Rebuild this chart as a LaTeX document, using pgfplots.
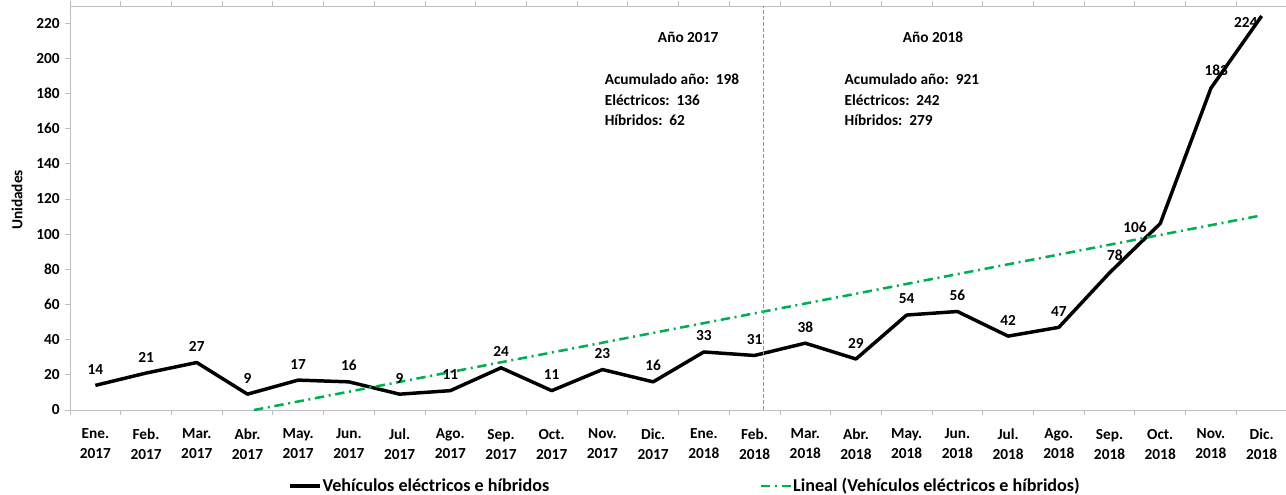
\documentclass[border=0pt]{standalone}
\usepackage{pgfplots}
\pgfplotsset{compat=1.18}
\usepackage{pgfplotstable}
\usepackage{fontspec}
\setmainfont{Carlito}
\definecolor{trendgreen}{RGB}{0,176,80}
\definecolor{axgray}{RGB}{190,190,190}
\definecolor{divgray}{RGB}{150,150,150}

% unidades por mes (0 = Ene. 2017 ... 23 = Dic. 2018)
\pgfplotstableread{
x  y
0  14
1  21
2  27
3  9
4  17
5  16
6  9
7  11
8  24
9  11
10 23
11 16
12 33
13 31
14 38
15 29
16 54
17 56
18 42
19 47
20 78
21 106
22 183
23 224
}\ventas

% tendencia lineal (recortada en y=0)
\pgfplotstableread{
x     y
3.13  0
23    110.67
}\tendencia

\pgfplotsset{etiq/.style={forget plot, draw=none, mark=none, nodes near coords, point meta=y,
    every node near coord/.append style={inner sep=0pt, text=black}}}

\begin{document}
\fontsize{11.5}{13.5}\selectfont\bfseries
\begin{tikzpicture}
\useasboundingbox (-52.5pt,-63pt) rectangle (912pt,307.5pt);
\begin{axis}[
    at={(0pt,0pt)}, anchor=south west,
    scale only axis,
    width=912.75pt, height=303pt,
    xmin=-0.5, xmax=23.5,
    ymin=0, ymax=229.7,
    axis line style={axgray},
    tick align=outside,
    tick style={axgray, line width=0.6pt},
    major tick length=3.75pt,
    minor tick length=3.75pt,
    xtick={0,...,23},
    major x tick style={draw=none},
    minor xtick={-0.5,0.5,...,23.5},
    xticklabels={{Ene.\\2017},{Feb.\\2017},{Mar.\\2017},{Abr.\\2017},{May.\\2017},{Jun.\\2017},
                 {Jul.\\2017},{Ago.\\2017},{Sep.\\2017},{Oct.\\2017},{Nov.\\2017},{Dic.\\2017},
                 {Ene.\\2018},{Feb.\\2018},{Mar.\\2018},{Abr.\\2018},{May.\\2018},{Jun.\\2018},
                 {Jul.\\2018},{Ago.\\2018},{Sep.\\2018},{Oct.\\2018},{Nov.\\2018},{Dic.\\2018}},
    xticklabel style={align=center, font=\fontsize{11.5}{15}\selectfont\bfseries, text=black, yshift=-6.5pt},
    ytick={0,20,...,220},
    yticklabel style={text=black},
    /pgf/number format/assume math mode=true,
    ylabel={Unidades},
    ylabel style={at={(axis description cs:-0.0436,0.52)}, anchor=center, font=\fontsize{11.5}{13}\selectfont\bfseries},
    legend columns=2,
    legend style={at={(axis description cs:0.179,-0.188)}, anchor=west, draw=none, fill=none,
                  inner sep=0pt, nodes={inner sep=0.75pt},
                  font=\fontsize{13.6}{16}\selectfont\bfseries,
                  /tikz/every even column/.append style={column sep=157pt}},
    legend image code/.code={\draw[#1] (0pt,0pt) -- (22.5pt,0pt);},
]
\addplot[black, line width=2.6pt, line join=round] table[x=x, y=y] {\ventas};
\addlegendentry{Vehículos eléctricos e híbridos}
\addplot[trendgreen, line width=1.9pt, dash pattern=on 7pt off 3.5pt on 1.5pt off 3.5pt]
    table[x=x, y=y] {\tendencia};
\addlegendentry{Lineal (Vehículos eléctricos e híbridos)}

% etiquetas de datos
\addplot[etiq, every node near coord/.append style={anchor=south, yshift=8pt}]
    table[x=x, y=y, restrict x to domain=0:19] {\ventas};
\addplot[etiq, every node near coord/.append style={anchor=south, xshift=4pt, yshift=9pt}]
    coordinates {(20,78) (22,183)};
\addplot[etiq, every node near coord/.append style={anchor=east, xshift=-10pt, yshift=-3pt}]
    coordinates {(21,106)};
\addplot[etiq, every node near coord/.append style={anchor=east, xshift=-3pt, yshift=-4.5pt}]
    coordinates {(23,224)};

\draw[divgray, line width=0.6pt, dash pattern=on 3pt off 1.5pt] (axis cs:13.17,0) -- (axis cs:13.17,229.7);

% resumen anual
\node[anchor=base] at (axis cs:11.69,209.2) {Año 2017};
\node[anchor=base west, align=left, font=\fontsize{11.5}{15.5}\selectfont\bfseries]
    at (axis cs:9.94,161.5) {Acumulado año:\ \ 198\\Eléctricos:\ \ 136\\Híbridos:\ \ 62};
\node[anchor=base] at (axis cs:16.52,209.2) {Año 2018};
\node[anchor=base west, align=left, font=\fontsize{11.5}{15.5}\selectfont\bfseries]
    at (axis cs:14.67,161.5) {Acumulado año:\ \ 921\\Eléctricos:\ \ 242\\Híbridos:\ \ 279};
\end{axis}
\end{tikzpicture}
\end{document}
